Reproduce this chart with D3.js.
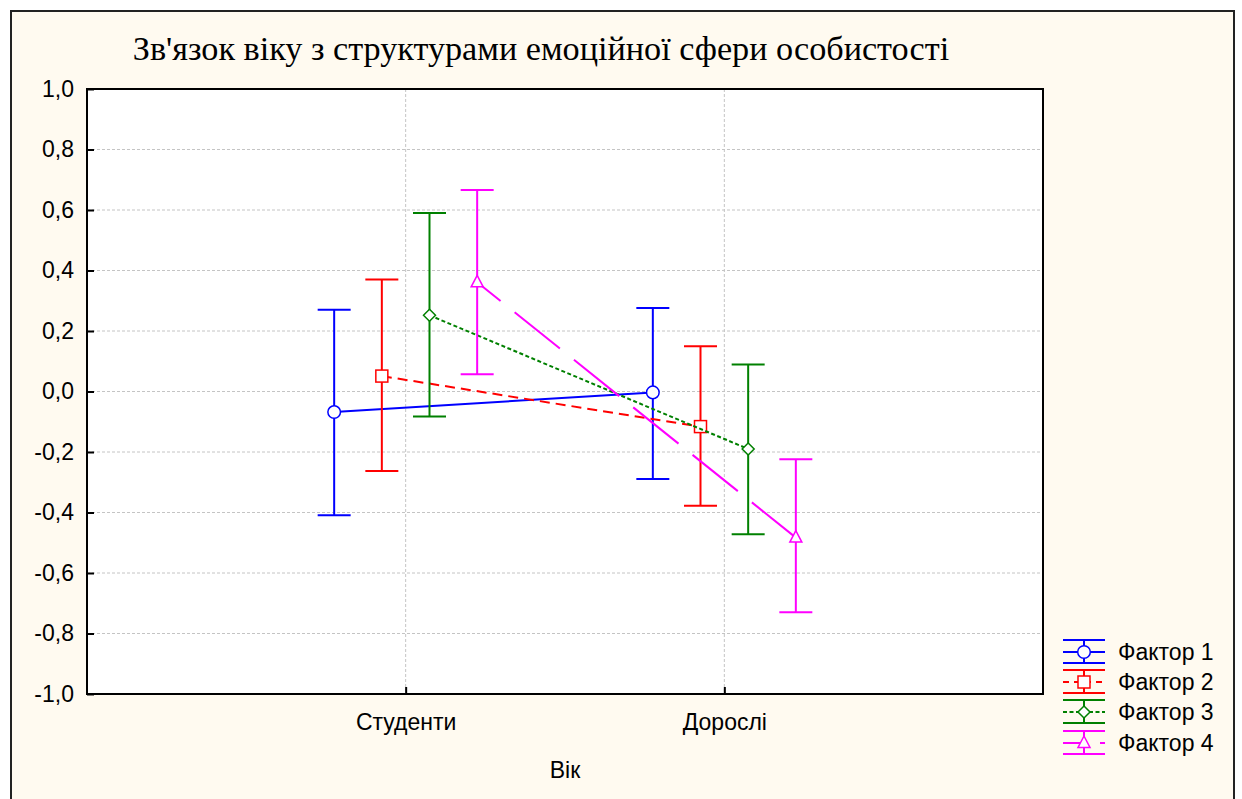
<!DOCTYPE html>
<html>
<head>
<meta charset="utf-8">
<script src="https://cdn.jsdelivr.net/npm/d3@7"></script>
<style>
html,body{margin:0;padding:0;background:#fff;}
svg{display:block;}
</style>
</head>
<body>
<script>
const categories = ["Студенти", "Дорослі"];
const seriesNames = ["Фактор 1", "Фактор 2", "Фактор 3", "Фактор 4"];
const meanF1 = [-0.068, -0.003];
const meanF2 = [0.051, -0.116];
const meanF3 = [0.252, -0.190];
const meanF4 = [0.361, -0.483];
const upperF1 = [0.270, 0.276];
const upperF2 = [0.370, 0.150];
const upperF3 = [0.590, 0.089];
const upperF4 = [0.666, -0.224];
const lowerF1 = [-0.409, -0.289];
const lowerF2 = [-0.263, -0.378];
const lowerF3 = [-0.083, -0.472];
const lowerF4 = [0.057, -0.730];
const yTicks = [-1.0, -0.8, -0.6, -0.4, -0.2, 0.0, 0.2, 0.4, 0.6, 0.8, 1.0];
const titleText = "Зв'язок віку з структурами емоційної сфери особистості";
const xTitle = "Вік";

const W = 1242, H = 799;
const plot = {l: 87, t: 89, r: 1043, b: 694};
const SANS = "Liberation Sans, Arial, sans-serif";
const FS = 23;

const styles = [
  {color: "#0000ff", dash: null, offset: 0, marker: "circle"},
  {color: "#ff0000", dash: "10,6", offset: 0, marker: "square"},
  {color: "#008000", dash: "4,2.5", offset: 0, marker: "diamond"},
  {color: "#ff00ff", dash: "58,18", offset: 28, marker: "triangle"}
];
const seriesData = [
  {name: seriesNames[0], mean: meanF1, up: upperF1, lo: lowerF1},
  {name: seriesNames[1], mean: meanF2, up: upperF2, lo: lowerF2},
  {name: seriesNames[2], mean: meanF3, up: upperF3, lo: lowerF3},
  {name: seriesNames[3], mean: meanF4, up: upperF4, lo: lowerF4}
];

const svg = d3.select("body").append("svg").attr("width", W).attr("height", H);
svg.append("rect").attr("x", 0).attr("y", 0).attr("width", W).attr("height", H).attr("fill", "#ffffff");
svg.append("rect").attr("x", 11).attr("y", 11).attr("width", 1223).attr("height", H + 20)
  .attr("fill", "#fffaf0").attr("stroke", "#222").attr("stroke-width", 2);

const x = d3.scalePoint().domain(categories).range([plot.l, plot.r]).padding(1);
const off = d3.scalePoint().domain(seriesNames).range([-71.5, 71.5]);
const y = d3.scaleLinear().domain([-1, 1]).range([plot.b, plot.t]);

const loc = d3.formatLocale({decimal: ",", thousands: " ", grouping: [3], currency: ["", ""], minus: "-"});
const fmt = loc.format(".1f");

svg.append("rect").attr("x", plot.l).attr("y", plot.t).attr("width", plot.r - plot.l).attr("height", plot.b - plot.t)
  .attr("fill", "#ffffff");

// grid
const grid = svg.append("g");
grid.selectAll("line.h").data(yTicks.filter(v => v > -1 && v < 1)).enter().append("line")
  .attr("x1", plot.l).attr("x2", plot.r).attr("y1", d => y(d)).attr("y2", d => y(d))
  .attr("stroke", "#c4c4c4").attr("stroke-width", 1).attr("stroke-dasharray", "3,2");
grid.selectAll("line.v").data(categories).enter().append("line")
  .attr("x1", d => x(d)).attr("x2", d => x(d)).attr("y1", plot.t).attr("y2", plot.b)
  .attr("stroke", "#c4c4c4").attr("stroke-width", 1).attr("stroke-dasharray", "3,2");

// axes
const yAxis = d3.axisLeft(y).tickValues(yTicks).tickFormat(fmt).tickSize(-7).tickPadding(13);
const gy = svg.append("g").attr("transform", `translate(${plot.l},0)`).call(yAxis);
gy.select(".domain").remove();
gy.selectAll(".tick line").attr("stroke", "#000").attr("stroke-width", 2);
gy.selectAll(".tick text").attr("font-family", SANS).attr("font-size", FS).attr("fill", "#000");

const xAxis = d3.axisBottom(x).tickSize(-7).tickPadding(20);
const gx = svg.append("g").attr("transform", `translate(0,${plot.b})`).call(xAxis);
gx.select(".domain").remove();
gx.selectAll(".tick line").attr("stroke", "#000").attr("stroke-width", 2);
gx.selectAll(".tick text").attr("font-family", SANS).attr("font-size", FS).attr("fill", "#000");

svg.append("rect").attr("x", plot.l).attr("y", plot.t).attr("width", plot.r - plot.l).attr("height", plot.b - plot.t)
  .attr("fill", "none").attr("stroke", "#000").attr("stroke-width", 2);

svg.append("text").attr("x", 565).attr("y", 778).attr("text-anchor", "middle")
  .attr("font-family", SANS).attr("font-size", FS).text(xTitle);

svg.append("text").attr("x", 541).attr("y", 60).attr("text-anchor", "middle")
  .attr("font-family", "Liberation Serif, Times New Roman, serif").attr("font-size", 34.2).attr("fill", "#000").text(titleText);

function drawMarker(g, type, cx, cy, color) {
  if (type === "circle") {
    g.append("circle").attr("cx", cx).attr("cy", cy).attr("r", 6.3).attr("fill", "#fff").attr("stroke", color).attr("stroke-width", 1.5);
  } else if (type === "square") {
    g.append("rect").attr("x", cx - 6).attr("y", cy - 6).attr("width", 12).attr("height", 12).attr("fill", "#fff").attr("stroke", color).attr("stroke-width", 1.5);
  } else if (type === "diamond") {
    g.append("path").attr("d", `M${cx},${cy-6}L${cx+6},${cy}L${cx},${cy+6}L${cx-6},${cy}Z`).attr("fill", "#fff").attr("stroke", color).attr("stroke-width", 1.5);
  } else {
    g.append("path").attr("d", `M${cx},${cy-7}L${cx+6},${cy+4.5}L${cx-6},${cy+4.5}Z`).attr("fill", "#fff").attr("stroke", color).attr("stroke-width", 1.5);
  }
}

const capHalf = 16.5;
seriesData.forEach((s, i) => {
  const st = styles[i];
  const g = svg.append("g");
  const px = categories.map(c => x(c) + off(s.name));
  categories.forEach((c, j) => {
    g.append("line").attr("x1", px[j]).attr("x2", px[j]).attr("y1", y(s.up[j])).attr("y2", y(s.lo[j]))
      .attr("stroke", st.color).attr("stroke-width", 2);
    [s.up[j], s.lo[j]].forEach(v => {
      g.append("line").attr("x1", px[j] - capHalf).attr("x2", px[j] + capHalf).attr("y1", y(v)).attr("y2", y(v))
        .attr("stroke", st.color).attr("stroke-width", 2);
    });
  });
  const line = d3.line().x((d, j) => px[j]).y(d => y(d));
  g.append("path").attr("d", line(s.mean)).attr("fill", "none").attr("stroke", st.color).attr("stroke-width", 2)
    .attr("stroke-dasharray", st.dash).attr("stroke-dashoffset", st.offset);
  categories.forEach((c, j) => drawMarker(g, st.marker, px[j], y(s.mean[j]), st.color));
});

// legend
const lg = svg.append("g");
const legY = [652, 682, 712, 743];
seriesData.forEach((s, i) => {
  const st = styles[i];
  const cy = legY[i];
  const x0 = 1063, x1 = 1105, xm = 1084;
  lg.append("line").attr("x1", x0).attr("x2", x1).attr("y1", cy - 12).attr("y2", cy - 12).attr("stroke", st.color).attr("stroke-width", 2);
  lg.append("line").attr("x1", x0).attr("x2", x1).attr("y1", cy + 11).attr("y2", cy + 11).attr("stroke", st.color).attr("stroke-width", 2);
  lg.append("line").attr("x1", xm).attr("x2", xm).attr("y1", cy - 12).attr("y2", cy + 11).attr("stroke", st.color).attr("stroke-width", 2);
  lg.append("line").attr("x1", x0).attr("x2", x1).attr("y1", cy).attr("y2", cy).attr("stroke", st.color).attr("stroke-width", 2)
    .attr("stroke-dasharray", st.dash ? (i === 3 ? "20,17" : (i === 1 ? "6,5" : st.dash)) : null);
  drawMarker(lg, st.marker, xm, cy, st.color);
  lg.append("text").attr("x", 1118).attr("y", cy + 8).attr("font-family", SANS)
    .attr("font-size", FS).attr("fill", "#000").text(s.name);
});
</script>
</body>
</html>
